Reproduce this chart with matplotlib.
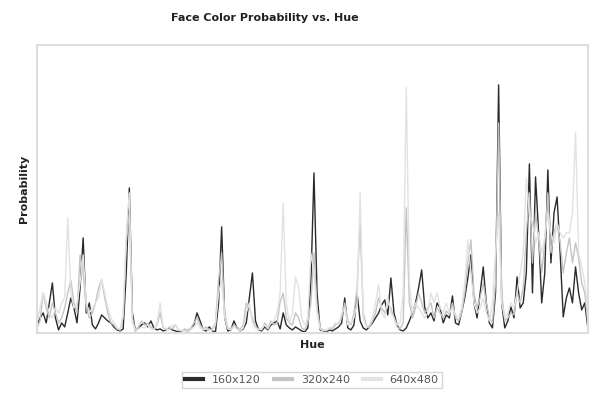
import matplotlib
matplotlib.use("Agg")
import matplotlib.pyplot as plt
import numpy as np

# hue bins and estimated probabilities (units of 1e-4)
hue_bins = np.arange(180)

prob_160x120 = [
    8, 15, 20, 10, 30, 50, 15, 3, 10, 6,
    20, 35, 25, 10, 45, 95, 20, 30, 8, 4,
    10, 18, 15, 12, 10, 6, 3, 2, 4, 60,
    145, 20, 2, 5, 8, 10, 6, 12, 5, 3,
    4, 2, 3, 5, 3, 2, 1, 2, 3, 2,
    4, 8, 20, 12, 3, 2, 6, 2, 1, 30,
    106, 15, 2, 3, 12, 5, 2, 4, 10, 35,
    60, 12, 3, 2, 6, 3, 8, 10, 12, 4,
    20, 8, 5, 3, 6, 4, 2, 1, 5, 50,
    160, 40, 3, 2, 1, 3, 2, 4, 6, 10,
    35, 5, 3, 8, 40, 12, 5, 3, 6, 10,
    15, 20, 28, 33, 18, 55, 20, 8, 3, 2,
    5, 12, 20, 30, 45, 63, 25, 15, 20, 12,
    30, 25, 10, 18, 15, 37, 10, 8, 21, 35,
    55, 78, 30, 15, 40, 66, 30, 10, 5, 40,
    248, 30, 5, 12, 26, 15, 56, 25, 30, 60,
    169, 40, 156, 100, 30, 60, 163, 70, 120, 136,
    80, 16, 35, 45, 30, 66, 40, 23, 30, 5,
]

prob_320x240 = [
    5, 12, 40, 25, 15, 30, 20, 10, 15, 25,
    40, 53, 30, 20, 78, 60, 25, 15, 20, 30,
    45, 53, 35, 20, 10, 8, 4, 3, 15, 90,
    120, 15, 3, 6, 12, 8, 10, 6, 4, 8,
    20, 5, 3, 6, 4, 8, 3, 2, 4, 3,
    5, 10, 15, 8, 4, 6, 3, 4, 10, 53,
    80, 20, 5, 4, 8, 6, 3, 8, 30, 25,
    15, 6, 4, 3, 10, 5, 12, 8, 10, 31,
    40, 15, 10, 8, 20, 15, 5, 3, 10, 30,
    80, 25, 5, 3, 2, 5, 4, 8, 10, 15,
    30, 12, 8, 20, 45, 110, 20, 8, 5, 12,
    20, 35, 25, 20, 30, 25, 15, 6, 4, 10,
    125, 30, 15, 25, 40, 30, 20, 25, 30, 15,
    25, 20, 15, 22, 18, 30, 15, 12, 20, 40,
    70, 93, 40, 25, 35, 50, 30, 15, 10, 50,
    210, 40, 12, 15, 20, 18, 40, 30, 45, 100,
    140, 70, 120, 95, 60, 90, 140, 80, 100, 110,
    90, 60, 80, 95, 70, 90, 75, 50, 40, 10,
]

prob_640x480 = [
    10, 25, 40, 30, 20, 15, 25, 20, 30, 35,
    115, 40, 25, 30, 50, 78, 30, 20, 25, 30,
    35, 54, 40, 25, 15, 10, 5, 3, 20, 100,
    140, 10, 2, 4, 6, 5, 8, 4, 3, 10,
    30, 6, 4, 3, 8, 8, 3, 2, 3, 2,
    4, 6, 10, 5, 3, 4, 2, 3, 8, 40,
    53, 15, 4, 3, 6, 4, 2, 5, 20, 30,
    10, 5, 3, 4, 8, 4, 10, 12, 20, 40,
    130, 30, 10, 20, 56, 45, 15, 8, 15, 80,
    60, 20, 4, 2, 3, 4, 6, 10, 8, 20,
    25, 8, 10, 15, 30, 140, 15, 6, 8, 15,
    30, 48, 20, 15, 35, 20, 15, 8, 10, 40,
    246, 50, 20, 30, 25, 20, 15, 20, 40, 30,
    40, 25, 20, 30, 20, 25, 18, 15, 25, 50,
    93, 60, 30, 20, 25, 35, 20, 12, 30, 80,
    120, 30, 15, 20, 30, 25, 40, 60, 80, 155,
    120, 110, 90, 100, 80, 95, 120, 100, 90, 110,
    100, 95, 100, 100, 120, 201, 80, 66, 50, 20,
]

labels = ["160x120", "320x240", "640x480"]
colors = ["#2a2a2a", "#c4c4c4", "#e2e2e2"]

fig = plt.figure(figsize=(5.92, 3.94), dpi=100)
ax = fig.add_axes([0.0625, 0.155, 0.9305, 0.731])

series = [prob_160x120, prob_320x240, prob_640x480]
for vals, lab, col in zip(series, labels, colors):
    ax.plot(hue_bins, np.array(vals) / 10000, color=col, lw=1.0, label=lab)

ax.set_xlim(0, 179)
ax.set_ylim(0, 0.0288)
ax.set_xticks([])
ax.set_yticks([])
for s in ax.spines.values():
    s.set_color("#dddddd")
    s.set_linewidth(1.5)

ax.set_xlabel("Hue", fontsize=8, fontweight="bold", color="#222222", labelpad=5)
ax.set_ylabel("Probability", fontsize=8, fontweight="bold", color="#222222", labelpad=6)
fig.text(0.448, 0.954, "Face Color Probability vs. Hue", ha="center", va="center",
         fontsize=8, fontweight="bold", color="#222222")

leg = fig.legend(loc="center", bbox_to_anchor=(0.527, 0.0355), ncol=3, fontsize=8,
                 frameon=True, fancybox=False, edgecolor="#cccccc",
                 handlelength=1.6, columnspacing=1.2, borderpad=0.3)
for line in leg.get_lines():
    line.set_linewidth(3)
for t in leg.get_texts():
    t.set_color("#555555")

fig.savefig("out.png", dpi=100)
